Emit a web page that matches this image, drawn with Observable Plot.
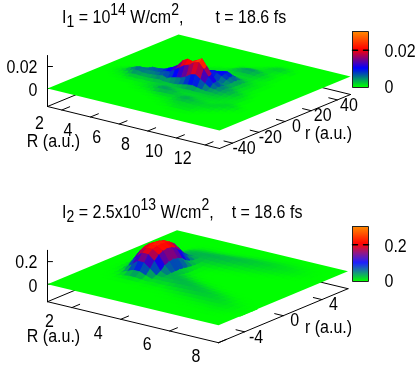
<!DOCTYPE html>
<html><head><meta charset="utf-8">
<script src="https://cdn.jsdelivr.net/npm/d3@7"></script>
<script src="https://cdn.jsdelivr.net/npm/@observablehq/plot@0.6"></script>
<style>
html,body{margin:0;background:#fff}
body{width:415px;height:367px;overflow:hidden;font-family:"Liberation Sans",Arial,sans-serif;filter:blur(.4px)}
.t{height:30px;font-size:16px;line-height:16px;box-sizing:border-box;padding-left:62px;color:#000;white-space:nowrap}
.t>div{transform:scaleY(1.12);transform-origin:0 50%}
.t sub,.t sup{font-size:14px;line-height:0;vertical-align:baseline;position:relative}
.t sup{top:-7px}.t sub{top:4px}
svg{display:block}
</style></head><body><div id="app"></div>
<script>
// Panel 1 heights, units of 0.0005. Each row: [first column index, values...], rest zero.
// Rows: R from 1 to 13 (37 rows), columns: r from -50 to 50 (41 columns).
const surface1 = [
[0],[0],[0],
[16,1,1,1],
[15,1,1,2,1,1],
[14,1,1,3,5,4,2,1],
[14,1,2,5,9,7,4,1],
[13,1,2,5,10,12,10,5,2,1],
[13,1,3,6,10,12,10,6,3,1],
[13,1,2,5,8,11,12,11,6,3,1],
[12,1,1,3,5,8,12,13,11,7,3,1],
[11,1,1,1,3,5,9,12,14,12,7,3,1,1],
[11,1,2,2,3,6,10,13,16,13,8,4,2,1,1],
[10,1,2,3,3,4,7,12,17,20,17,10,5,3,2,1,1],
[10,1,2,4,4,4,5,9,18,24,22,12,7,5,3,2,1,1,1],
[9,1,2,5,6,5,4,5,12,24,30,26,14,9,7,4,3,2,2,2,1],
[9,1,3,7,8,6,4,5,14,30,40,34,16,10,9,6,4,3,2,2,1,1],
[8,1,2,4,7,7,5,4,6,16,36,45,32,16,13,12,8,5,3,2,2,2,1],
[8,1,2,4,7,6,4,4,8,20,39,43,28,16,18,16,10,6,3,2,2,2,2,1],
[7,1,1,2,4,5,4,3,4,10,26,46,47,24,16,22,19,14,8,4,2,2,3,4,3,2,1],
[6,1,1,2,3,4,4,3,3,5,11,28,48,52,24,14,23,20,17,10,5,3,3,4,6,5,3,1],
[6,1,2,3,5,5,4,3,3,4,9,22,38,40,20,13,21,20,19,12,6,3,3,5,7,7,4,2,1],
[5,1,2,2,4,5,7,5,3,3,4,7,16,26,28,14,10,17,19,20,13,6,3,3,5,8,8,5,2,1,1],
[5,1,3,2,4,6,6,4,3,3,4,6,10,16,17,10,8,12,14,15,10,5,3,3,5,7,7,4,2,2,2,1],
[5,1,3,2,3,4,4,3,3,3,4,6,9,11,11,9,8,8,9,9,7,4,3,3,4,5,5,3,2,3,3,2,1],
[5,1,3,2,3,4,4,3,2,3,4,5,7,8,8,7,5,5,5,5,4,3,2,2,3,3,3,2,2,3,4,3,1],
[5,1,2,2,3,3,3,2,2,3,3,4,6,7,6,5,3,3,3,3,2,2,1,1,2,2,2,1,1,2,3,2,1],
[6,1,1,2,3,3,2,2,2,3,3,4,5,5,3,2,2,2,2,2,1,1,1,1,1,1,1,0,1,2,1],
[7,1,2,3,3,3,2,2,2,2,3,3,3,2,1,1,1,1,1,1,1],
[8,1,2,3,3,3,2,2,2,2,2,2,1,1],
[9,1,2,3,3,2,1,1,1,1],
[10,1,2,2,1],
[11,1,1],
[0],[0],[0],[0]];
// Panel 2 heights, units of 0.001. Same row form.
// Rows: R from 1 to 8 (29 rows), columns: r from -6.7 to 6.7 (31 columns).
const surface2 = [
[0],[0],[0],
[11,1,2,2,3,3,3,2,2,1],
[9,1,2,4,9,15,20,23,20,15,9,4,2,1],
[8,1,3,10,28,50,88,105,114,105,88,50,28,10,3,1],
[8,3,10,32,75,130,168,188,195,188,168,130,75,32,14,7,4,1],
[8,5,17,54,118,175,205,217,221,217,205,175,118,56,27,25,20,12,5,1],
[8,5,17,54,118,175,205,217,221,217,205,175,122,65,35,30,25,16,7,2],
[8,3,10,32,75,130,168,188,195,188,168,130,82,48,30,30,26,17,8,2],
[7,1,2,5,13,30,52,88,105,114,105,88,52,35,26,27,30,28,18,8,2],
[7,2,6,14,20,25,28,32,32,33,28,22,16,14,18,24,28,29,20,9,3],
[8,2,8,17,26,30,27,18,10,6,5,6,9,15,21,26,28,22,11,3],
[7,1,4,10,19,28,29,22,12,5,2,2,3,6,12,18,24,27,23,13,5,1],
[7,2,6,14,23,29,26,16,7,2,0,0,1,4,9,15,21,25,24,15,6,1],
[6,1,3,9,17,26,28,21,11,4,1,0,0,0,2,6,12,18,22,24,17,8,2],
[6,2,5,11,19,25,25,17,8,2,0,0,0,0,1,4,9,15,20,22,18,9,3],
[5,1,3,7,13,21,25,21,13,5,1,0,0,0,0,0,3,7,12,17,20,18,10,4,1],
[5,1,3,8,15,22,23,17,9,3,0,0,0,0,0,0,2,5,10,14,17,17,11,5,1],
[5,2,4,9,16,22,20,13,6,1,0,0,0,0,0,0,0,4,8,12,15,15,11,5,2],
[4,1,2,5,10,16,20,17,10,4,0,0,0,0,0,0,0,0,3,6,10,12,13,10,5,2],
[4,1,3,6,11,16,17,13,7,2,0,0,0,0,0,0,0,0,0,4,8,10,11,9,5,2],
[4,1,3,6,11,15,14,10,4,1,0,0,0,0,0,0,0,0,0,3,6,8,9,7,4,1],
[4,2,4,7,11,13,10,6,2,0,0,0,0,0,0,0,0,0,0,0,4,6,7,5,3,1],
[4,2,4,7,10,9,6,3,1,0,0,0,0,0,0,0,0,0,0,0,2,4,4,3,2],
[4,1,3,5,7,6,3,1,0,0,0,0,0,0,0,0,0,0,0,0,0,2,2,2,1],
[5,2,3,4,3,2,0,0,0,0,0,0,0,0,0,0,0,0,0,0,1,1],
[6,1,2,1],
[0]];

const titles1 = ["I<sub>1</sub> = 10<sup>14</sup> W/cm<sup>2</sup>,", "t = 18.6 fs"];
const titles2 = ["I<sub>2</sub> = 2.5x10<sup>13</sup> W/cm<sup>2</sup>,", "t = 18.6 fs"];
const Rticks1 = [2,4,6,8,10,12], rticks1 = [-40,-20,0,20,40], zticks1 = [0,0.02];
const Rticks2 = [2,4,6,8], rticks2 = [-4,0,4], zticks2 = [0,0.2];
const zlabels1 = ["0","0.02"], zlabels2 = ["0","0.2"];
const paletteColors = ["#00ff00","#0000ff","#ff0000","#ff9000"];

const panels = [
 {surface:surface1, title:titles1, gap:32, pad:9, h:155, unit:0.0005, cols:41,
  Rdom:[1,13], rdom:[-50,50], zmax:0.03, Rticks:Rticks1, rticks:rticks1, zticks:zticks1, zlabels:zlabels1,
  O:[47,58], U:[172,42], V:[131,-54], zpx:1100, zbase:-18/1100, cb:[1,57]},
 {surface:surface2, title:titles2, gap:18, pad:19, h:152, unit:0.001, cols:31,
  Rdom:[1,8], rdom:[-6.7,6.7], zmax:0.3, Rticks:Rticks2, rticks:rticks2, zticks:zticks2, zlabels:zlabels2,
  O:[47,68.7], U:[171,41], V:[129.5,-54], zpx:113, zbase:-17.5/113, cb:[11,66]}
];

function draw(p){
  const u = R => (R-p.Rdom[0])/(p.Rdom[1]-p.Rdom[0]);
  const v = r => (r-p.rdom[0])/(p.rdom[1]-p.rdom[0]);
  const proj = (a,b,z) => [p.O[0]+a*p.U[0]+b*p.V[0], p.O[1]+a*p.U[1]+b*p.V[1]-z*p.zpx];
  const pt = (a,b,z) => { const [x,y]=proj(a,b,z); return {x,y}; };
  const zb = p.zbase;
  const S = p.surface.map(row=>{ const o=new Array(p.cols).fill(0); row.slice(1).forEach((val,k)=>{o[row[0]+k]=val;}); return o; });
  const nu = S.length-1, nv = p.cols-1;
  const cells = [];
  for(let i=0;i<nu;i++) for(let j=nv-1;j>=0;j--){
    const c = [[i,j],[i+1,j],[i+1,j+1],[i,j+1]];
    const zs = c.map(([a,b])=>S[a][b]*p.unit);
    const m = d3.mean(zs);
    if(m===0) continue;   // flat part is the underlying plane
    const id = i*1000+j;
    c.forEach(([a,b],k)=>{ cells.push({...pt(a/nu,b/nv,zs[k]), id, m}); });
  }
  const plane = [[0,0],[1,0],[1,1],[0,1]].map(([a,b])=>({...pt(a,b,0),m:0}));
  const segs = (list) => list.flatMap((s,k)=>s.map(q=>({...q,k})));
  const back = segs([[pt(0,0,zb),pt(0,1,zb)],[pt(0,1,zb),pt(1,1,zb)]]);
  const front = [[pt(0,0,zb),pt(1,0,zb)],[pt(1,0,zb),pt(1,1,zb)],[pt(0,0,zb),pt(0,0,p.zmax)]];
  const ticks = [];
  p.Rticks.forEach(R=>ticks.push([pt(u(R),0,zb),pt(u(R),0.06,zb)]));
  p.rticks.forEach(r=>ticks.push([pt(1,v(r),zb),pt(0.95,v(r),zb)]));
  const zt = p.zticks.map(z=>{const a=pt(0,0,z);return [a,{x:a.x+5,y:a.y}];});
  const Rl = p.Rticks.map(R=>{const a=pt(u(R),0,zb);return {x:a.x-22.5,y:a.y+13.5,t:String(R)};});
  const rl = p.rticks.map(r=>{const a=pt(1,v(r),zb);return {x:a.x+11.5,y:a.y+5,t:String(r)};});
  const zl = p.zticks.map((z,k)=>{const a=pt(0,0,z);return {x:37,y:a.y+(k?1:2),t:p.zlabels[k]};});
  const labR = pt(1,0,zb), labO = pt(0,0,zb);
  const [c0,c1] = p.cb, cby = z => c1-(z/p.zmax)*(c1-c0);
  const step = p.zmax/56;
  const ramp = d3.range(0,p.zmax,step).map(z=>({z,y1:cby(z)+.3,y2:cby(z+step)}));
  const cbt = p.zticks[1];
  const boxx=[352,368];
  const cbFrame = [{x:boxx[0],y:c0},{x:boxx[1],y:c0},{x:boxx[1],y:c1},{x:boxx[0],y:c1},{x:boxx[0],y:c0}];
  const cbl = p.zticks.map((z,k)=>({x:384,y:cby(z)+(k?1:0),t:p.zlabels[k]}));
  const txt = {fontSize:16,fontFamily:"Liberation Sans",fill:"#000",lineAnchor:"middle"};
  const L = (a)=>Plot.line(a,{x:"x",y:"y",stroke:"#000",strokeWidth:1});
  const svg = Plot.plot({
    width:415,height:p.h,margin:0,
    x:{domain:[0,415],range:[0,415],axis:null},
    y:{domain:[0,p.h],range:[0,p.h],axis:null},
    color:{type:"linear",domain:[0,p.zmax/3,2*p.zmax/3,p.zmax],range:paletteColors,interpolate:"rgb"},
    marks:[
      Plot.line(back,{x:"x",y:"y",z:"k",stroke:"#000",strokeWidth:1}),
      ...front.map(L),...ticks.map(L),...zt.map(L),
      Plot.line(plane,{x:"x",y:"y",z:"m",fill:"m"}),
      Plot.line(cells,{x:"x",y:"y",z:"id",fill:"m",stroke:"m",strokeWidth:.9}),
      Plot.rect(ramp,{x1:boxx[0],x2:boxx[1],y1:"y1",y2:"y2",fill:"z"}),
      Plot.line(cbFrame,{x:"x",y:"y",stroke:"#222",strokeWidth:1}),
      Plot.line([{x:boxx[0],y:cby(cbt)},{x:boxx[0]+5,y:cby(cbt)}],{x:"x",y:"y",stroke:"#000"}),
      Plot.line([{x:boxx[1]-5,y:cby(cbt)},{x:boxx[1],y:cby(cbt)}],{x:"x",y:"y",stroke:"#000"}),
      Plot.text(Rl,{x:"x",y:"y",text:"t",textAnchor:"middle",...txt}),
      Plot.text(rl,{x:"x",y:"y",text:"t",textAnchor:"middle",...txt}),
      Plot.text(zl,{x:"x",y:"y",text:"t",textAnchor:"end",...txt}),
      Plot.text(cbl,{x:"x",y:"y",text:"t",textAnchor:"start",...txt}),
      Plot.text([{x:53,y:labO.y+35,t:"R (a.u.)"}],{x:"x",y:"y",text:"t",textAnchor:"middle",...txt}),
      Plot.text([{x:328,y:labR.y-15,t:"r (a.u.)"}],{x:"x",y:"y",text:"t",textAnchor:"middle",...txt})
    ]
  });
  // the reference's lettering is slightly taller than wide
  svg.querySelectorAll("text").forEach(el=>{
    const tr = el.getAttribute("transform");
    if(tr) el.setAttribute("transform", tr+" scale(1,1.12)");
  });
  const t = document.createElement("div"); t.className="t"; t.style.paddingTop=p.pad+"px";
  t.innerHTML = '<div>'+p.title[0]+'<span style="margin-left:'+p.gap+'px">'+p.title[1]+'</span></div>';
  document.getElementById("app").append(t,svg);
}
panels.forEach(draw);
</script></body></html>
